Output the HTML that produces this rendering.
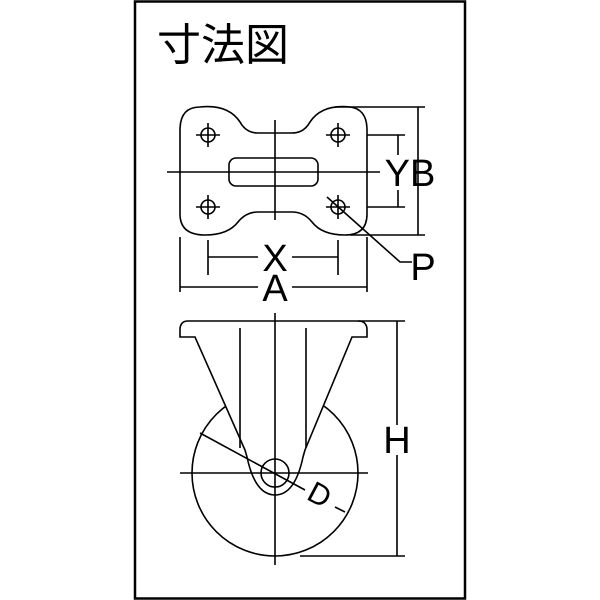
<!DOCTYPE html><html><head><style>body{margin:0;background:#fff}svg{display:block}</style></head><body>
<svg width="600" height="600" viewBox="0 0 600 600" xmlns="http://www.w3.org/2000/svg" font-family="Liberation Sans, sans-serif">
<rect x="135" y="1.5" width="330" height="597" fill="none" stroke="#000" stroke-width="2.5"/>
<text x="157" y="60" font-size="44" font-family="Liberation Sans, Noto Sans CJK JP, sans-serif">寸法図</text>
<g fill="none" stroke="#000" stroke-width="1.6">
<path d="M200,107 Q228,104 240,122 Q246,133 258,133 L292,133 Q304,133 310,122 Q322,104 350,107 Q367,109 367,130 L367,214 Q367,235 345,235 Q322,235 312,222 Q304,212 292,212 L258,212 Q246,212 238,222 Q228,235 205,235 Q180,235 180,214 L180,130 Q180,107 200,107 Z"/>
<circle cx="208" cy="135" r="7"/><circle cx="338" cy="135" r="7"/><circle cx="208" cy="207" r="7"/><circle cx="338" cy="207" r="7"/>
<path d="M196,135h24M208,123v24M326,135h24M338,123v24M196,207h24M208,195v24M326,207h24M338,195v24"/>
<rect x="229" y="158" width="89" height="28" rx="7"/>
<path d="M275,120V220M167,172H380"/>
<path d="M335,107H425M350,235H425M418,107V235M367,135H405M367,207H405M398,135V155M398,190V207"/>
<path d="M208,240V275M338,240V275M208,257H258M292,257H338M180,237V292M367,237V292M180,287H258M292,287H367"/>
<path d="M327,197L400,262H412"/>
<circle cx="275" cy="473" r="83"/>
<circle cx="275" cy="473" r="14"/>
<path d="M188,321H358Q367,321 367,330V337H352L305,450L303,457Q295,495 275,495Q255,495 247,457L245,450L195,337H180V330Q180,321 188,321Z" fill="#fff"/>
<circle cx="275" cy="473" r="14"/>
<path d="M240,328V448M306,328V448"/>
<path d="M275,313V565M180,473H368"/>
<path d="M358,321H405M300,556H405M397,321V425M397,455V556"/>
<path d="M200,433L305,490M335,507L345,512"/>
</g>
<g font-size="38" text-anchor="middle">
<text x="410" y="186">YB</text>
<text x="275" y="271">X</text>
<text x="275" y="301">A</text>
<text x="423" y="280">P</text>
<text x="397" y="453">H</text>
<text x="320" y="505" font-size="30" transform="rotate(28 320 494)">D</text>
</g>
</svg></body></html>
